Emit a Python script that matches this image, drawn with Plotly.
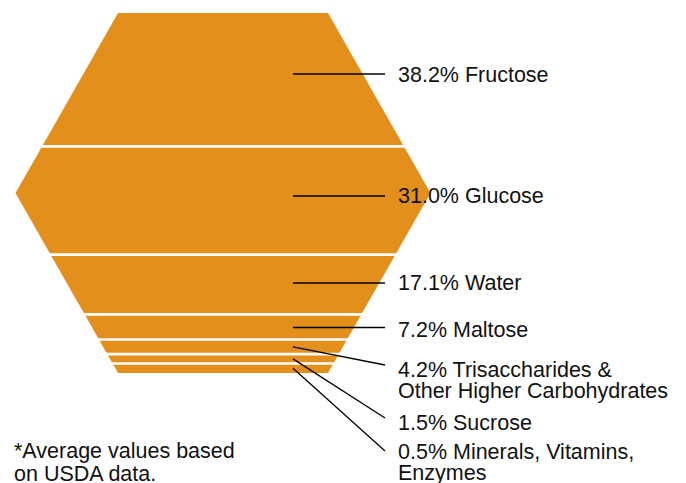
import plotly.graph_objects as go

# ---------------- data ----------------
components = ["Fructose", "Glucose", "Water", "Maltose",
              "Trisaccharides &\nOther Higher Carbohydrates",
              "Sucrose", "Minerals, Vitamins,\nEnzymes"]
values = [38.2, 31.0, 17.1, 7.2, 4.2, 1.5, 0.5]
footnote_lines = ["*Average values based", "on USDA data."]

# ---------------- styling / layout parameters ----------------
ORANGE = "#E38F1C"
FONT = "Liberation Sans, Arial, sans-serif"
FSIZE = 21.5
MIN_SHARE = 2.7           # minimum displayed band thickness (percent units)
HW_EDGE = 105.0           # half width of hexagon at top/bottom edge (x units)
HW_MID = 207.5            # half width at widest point
PX_TOP, PX_BOT = 13, 373  # vertical placement of hexagon in the page
CENTER_PX = 223
OFF = 8                   # page margin around the figure
W, H = 686, 483

disp = [max(v, MIN_SHARE) for v in values]
T = sum(disp)
k = (PX_BOT - PX_TOP) / T          # pixels per stack unit
def u(py):                         # page pixel row -> stack units
    return (py - PX_TOP) / k

def hw(y):
    return HW_EDGE + (HW_MID - HW_EDGE) * (1 - abs(y - T / 2) / (T / 2))

bounds = [0.0]
for d in disp:
    bounds.append(bounds[-1] + d)

fig = go.Figure()

# bands
for i in range(len(values)):
    a, b = bounds[i], bounds[i + 1]
    ys = [a]
    if a < T / 2 < b:
        ys.append(T / 2)
    ys.append(b)
    xs_r = [hw(y) for y in ys]
    px = xs_r + [-x for x in reversed(xs_r)] + [xs_r[0]]
    py = ys + list(reversed(ys)) + [ys[0]]
    fig.add_trace(go.Scatter(x=px, y=py, fill="toself", fillcolor=ORANGE,
                             mode="lines", line=dict(width=0, color=ORANGE),
                             hoverinfo="skip", showlegend=False))

# white separators
for y in bounds[1:-1]:
    fig.add_trace(go.Scatter(x=[-hw(y) - 2, hw(y) + 2], y=[y, y], mode="lines",
                             line=dict(color="white", width=2.6),
                             hoverinfo="skip", showlegend=False))

# label layout (page rows of leader end and of each text line)
leader_end_px = [74, 196, 283, 327.5, 365, 418, 451]
text_rows_px = [[74.5], [196], [283], [330], [369.5, 390.5], [423], [451.5, 473]]
LEADER_X0, LEADER_X1, TEXT_X = 70, 162, 173

for i, (name, v) in enumerate(zip(components, values)):
    a, b = bounds[i], bounds[i + 1]
    ye = u(leader_end_px[i])
    ys = ye if a + 0.3 < ye < b - 0.3 else (a + b) / 2
    fig.add_trace(go.Scatter(x=[LEADER_X0, LEADER_X1], y=[ys, ye], mode="lines",
                             line=dict(color="black", width=1.3),
                             hoverinfo="skip", showlegend=False))
    lines = f"{v:.1f}% {name}".split("\n")
    for line, row in zip(lines, text_rows_px[i]):
        fig.add_annotation(x=TEXT_X, y=u(row), xref="x", yref="y", text=line,
                           showarrow=False, xanchor="left", yanchor="middle",
                           font=dict(family=FONT, size=FSIZE, color="#111111"))

for j, line in enumerate(footnote_lines):
    row = [450.5, 474][j]
    fig.add_annotation(x=(12 - OFF) / W, y=1 - (row - OFF) / H,
                       xref="paper", yref="paper",
                       text=line, showarrow=False, xanchor="left", yanchor="middle",
                       font=dict(family=FONT, size=FSIZE, color="#111111"))

fig.update_layout(
    width=W, height=H, margin=dict(l=0, r=0, t=0, b=0),
    paper_bgcolor="white", plot_bgcolor="white", showlegend=False,
    xaxis=dict(range=[-(CENTER_PX - OFF), W - (CENTER_PX - OFF)],
               visible=False, fixedrange=True),
    yaxis=dict(range=[u(OFF + H), u(OFF)], visible=False, fixedrange=True),
)

fig.write_html("out.html")
